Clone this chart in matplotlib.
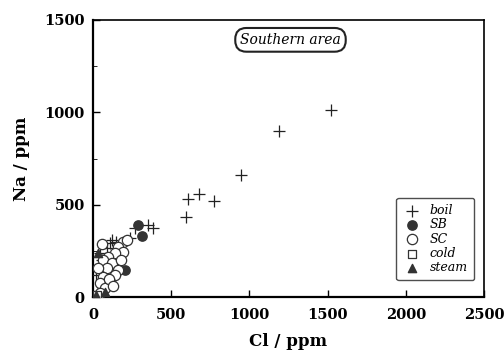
import numpy as np
import matplotlib.pyplot as plt

# Cl / Na (ppm)
boil_cl = [1519, 1192, 949, 609, 679, 776, 596, 353, 385, 269, 237, 122, 110, 90, 45, 150, 60, 20]
boil_na = [1011, 897, 659, 530, 557, 519, 432, 389, 373, 373, 319, 308, 292, 265, 238, 300, 200, 120]
sb_cl = [288, 314, 205, 60]
sb_na = [389, 330, 146, 60]
sc_cl = [192, 160, 192, 140, 96, 64, 122, 90, 160, 140, 64, 45, 110, 77, 45, 100, 30, 220, 180, 130, 60]
sc_na = [297, 270, 243, 238, 216, 200, 184, 157, 146, 119, 108, 76, 81, 49, 22, 100, 160, 310, 200, 60, 290]
cold_cl = [8, 25]
cold_na = [5, 10]
steam_cl = [32, 75, 20]
steam_na = [238, 30, 10]

fig = plt.figure(figsize=(5.04, 3.55), dpi=100)
ax = fig.add_axes([0.1845, 0.163, 0.776, 0.781])

ax.scatter(boil_cl, boil_na, marker='+', s=70, c='#222222', linewidths=0.9, label='boil', zorder=3)
ax.scatter(sb_cl, sb_na, marker='o', s=45, c='#333333', edgecolors='#333333', label='SB', zorder=3)
ax.scatter(sc_cl, sc_na, marker='o', s=55, facecolors='white', edgecolors='#333333', linewidths=0.9, label='SC', zorder=4)
ax.scatter(cold_cl, cold_na, marker='s', s=30, facecolors='white', edgecolors='#333333', linewidths=0.9, label='cold', zorder=4)
ax.scatter(steam_cl, steam_na, marker='^', s=35, c='#333333', label='steam', zorder=4)

ax.set_xlim(0, 2500)
ax.set_ylim(0, 1500)
ax.set_xticks([0, 500, 1000, 1500, 2000, 2500])
ax.set_yticks([0, 500, 1000, 1500])
ax.set_yticks([250, 750, 1250], minor=True)
ax.tick_params(direction='in', length=5, width=1, labelsize=10.5, pad=6)
ax.tick_params(axis='x', pad=8)
ax.tick_params(which='minor', direction='in', length=3)
for lab in ax.get_xticklabels() + ax.get_yticklabels():
    lab.set_fontfamily('DejaVu Serif')
    lab.set_fontweight('bold')

for side in ['left', 'bottom']:
    ax.spines[side].set_linewidth(1.6)
for side in ['top', 'right']:
    ax.spines[side].set_linewidth(1.2)

ax.set_xlabel('Cl / ppm', fontsize=12, fontfamily='DejaVu Serif', fontweight='bold', labelpad=8)
ax.set_ylabel('Na / ppm', fontsize=12, fontfamily='DejaVu Serif', fontweight='bold', labelpad=10)

ax.text(0.505, 0.928, 'Southern area', transform=ax.transAxes, ha='center', va='center',
        fontsize=10, fontstyle='italic', fontfamily='DejaVu Serif',
        bbox=dict(boxstyle='round,pad=0.35,rounding_size=0.8', fc='white', ec='#222222', lw=1.5))

leg = ax.legend(loc='lower right', bbox_to_anchor=(0.975, 0.06), frameon=True, fancybox=True,
                prop={'family': 'DejaVu Serif', 'style': 'italic', 'size': 9},
                handletextpad=0.6, labelspacing=0.1, borderpad=0.5, handlelength=1.6,
                borderaxespad=0.0)
leg.get_frame().set_edgecolor('#222222')
leg.get_frame().set_linewidth(1.0)

fig.savefig('out.png', dpi=100)
